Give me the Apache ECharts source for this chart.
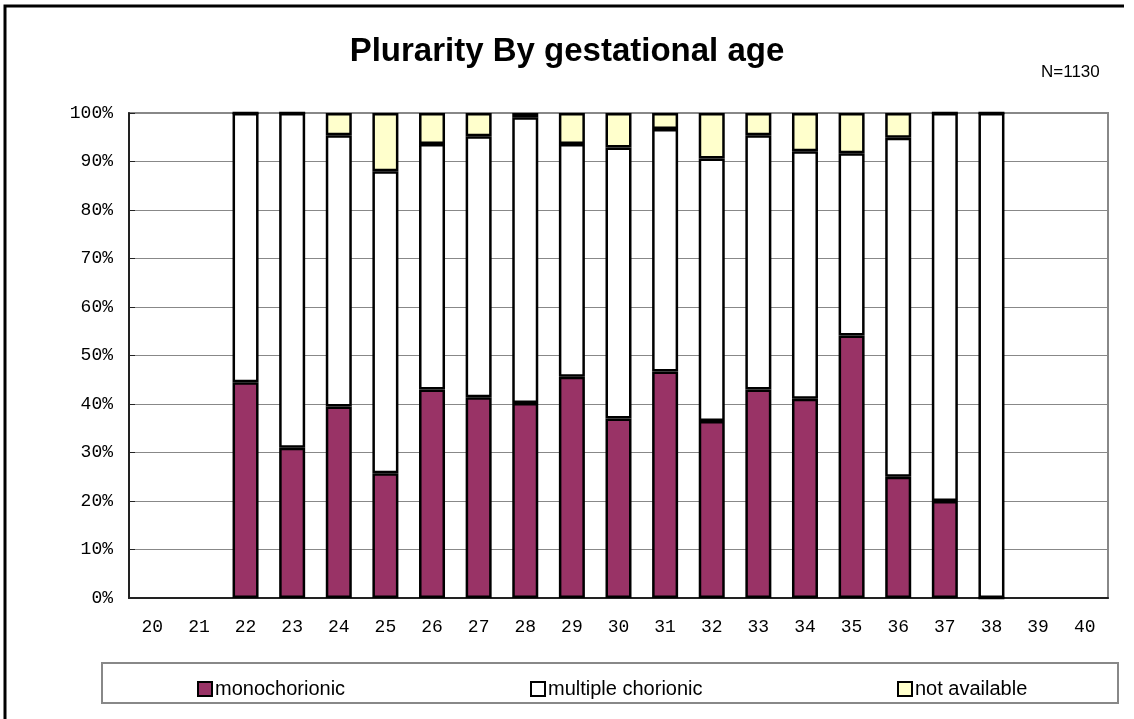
<!DOCTYPE html>
<html>
<head>
<meta charset="utf-8">
<title>Plurarity By gestational age</title>
<script src="https://cdn.jsdelivr.net/npm/echarts@6/dist/echarts.min.js"></script>
<style>
  html, body { margin: 0; padding: 0; background: #fff; }
  #chart { width: 1134px; height: 719px; }
</style>
</head>
<body>
<div id="chart"></div>
<script>
// gestational age (weeks)
const weeks = ['20', '21', '22', '23', '24', '25', '26', '27', '28', '29', '30',
  '31', '32', '33', '34', '35', '36', '37', '38', '39', '40'];
// percentages
const monochorionic = ['-', '-', 44.5, 31.0, 39.5, 25.7, 43.0, 41.4, 40.2, 45.6, 37.0,
  46.7, 36.5, 43.0, 41.1, 54.1, 25.0, 20.0, 0, '-', '-'];
const multipleChorionic = ['-', '-', 55.5, 69.0, 55.9, 62.3, 50.6, 53.8, 58.9, 48.0, 55.9,
  50.0, 54.1, 52.4, 51.0, 37.6, 69.9, 80.0, 100, '-', '-'];
const notAvailable = ['-', '-', 0, 0, 4.6, 12.0, 6.4, 4.8, 0.9, 6.4, 7.1,
  3.3, 9.4, 4.6, 7.9, 8.3, 5.1, 0, 0, '-', '-'];
const yTicks = [0, 10, 20, 30, 40, 50, 60, 70, 80, 90, 100];

const chart = echarts.init(document.getElementById('chart'));

function barSeries(name, data, color) {
  return {
    name: name,
    type: 'bar',
    stack: 'total',
    data: data,
    barWidth: 26,
    itemStyle: { color: color, borderColor: '#000', borderWidth: 2.5 }
  };
}

function legendAt(name, left) {
  return {
    data: [name],
    left: left,
    top: 674,
    icon: 'rect',
    itemWidth: 14,
    itemHeight: 14,
    itemGap: 4,
    selectedMode: false,
    itemStyle: { borderColor: '#000', borderWidth: 2 },
    textStyle: { fontFamily: 'Liberation Sans', fontSize: 20, color: '#000', padding: [0, 0, 0, -2] }
  };
}

chart.setOption({
  animation: false,
  title: [{
    text: 'Plurarity By gestational age',
    left: 'center',
    top: 30,
    textStyle: { fontFamily: 'Liberation Sans', fontWeight: 'bold', fontSize: 33, color: '#000' }
  }, {
    text: 'N=1130',
    left: 1036,
    top: 59,
    textStyle: { fontFamily: 'Liberation Sans', fontWeight: 'normal', fontSize: 17, color: '#000' }
  }],
  legend: [
    legendAt('monochorionic', 192),
    legendAt('multiple chorionic', 525),
    legendAt('not available', 892)
  ],
  grid: {
    left: 129, right: 26, top: 113, bottom: 121,
    show: true, borderColor: '#888', borderWidth: 2
  },
  xAxis: {
    type: 'category',
    data: weeks,
    axisLine: { lineStyle: { color: '#222', width: 2 } },
    axisTick: { inside: true, length: 6, lineStyle: { color: '#222', width: 1 } },
    axisLabel: { fontFamily: 'Liberation Mono', fontSize: 18, color: '#000', margin: 20 }
  },
  yAxis: {
    type: 'value',
    min: yTicks[0],
    max: yTicks[yTicks.length - 1],
    interval: 10,
    axisLine: { show: true, lineStyle: { color: '#222', width: 2 } },
    axisTick: { show: true, inside: true, length: 6, lineStyle: { color: '#222' } },
    splitLine: { lineStyle: { color: '#888', width: 1 } },
    axisLabel: {
      fontFamily: 'Liberation Mono', fontSize: 18, color: '#000', margin: 16,
      formatter: '{value}%'
    }
  },
  graphic: [{
    type: 'polyline',
    shape: { points: [[5, 719], [5, 6], [1124, 6]] },
    style: { stroke: '#000', lineWidth: 3, fill: null }
  }, {
    type: 'rect',
    shape: { x: 102, y: 663, width: 1016, height: 40 },
    style: { stroke: '#888', lineWidth: 2, fill: null },
    z: -1
  }],
  series: [
    barSeries('monochorionic', monochorionic, '#993366'),
    barSeries('multiple chorionic', multipleChorionic, '#ffffff'),
    barSeries('not available', notAvailable, '#ffffcc')
  ]
});
</script>
</body>
</html>
